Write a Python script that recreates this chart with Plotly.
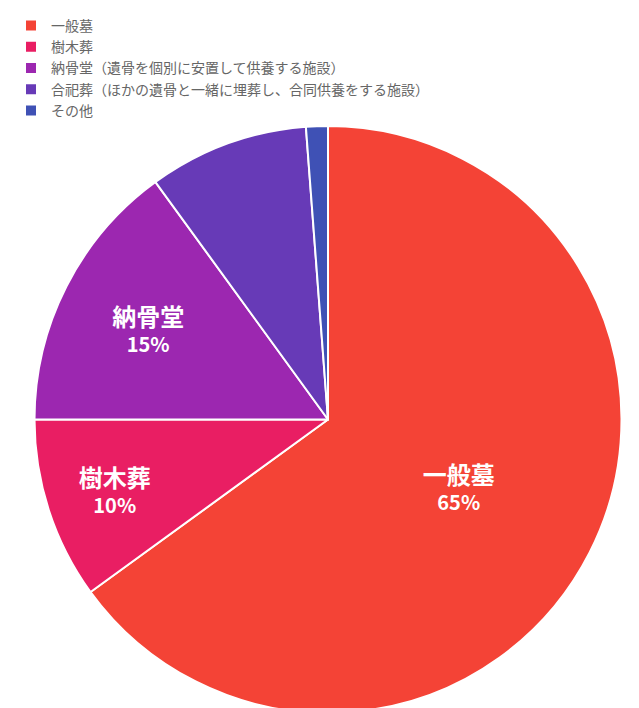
import plotly.graph_objects as go

labels = ["一般墓", "樹木葬", "納骨堂（遺骨を個別に安置して供養する施設）",
          "合祀葬（ほかの遺骨と一緒に埋葬し、合同供養をする施設）", "その他"]
short_labels = ["一般墓", "樹木葬", "納骨堂", "", ""]
values = [65, 10, 15, 8.8, 1.2]
pct_text = ["65%", "10%", "15%", "", ""]
colors = ["#F44336", "#E91E63", "#9C27B0", "#673AB7", "#3F51B5"]

texts = [f"<span style='font-size:24px'><b>{s}</b></span><br><b>{p}</b>" if s else ""
         for s, p in zip(short_labels, pct_text)]

fig = go.Figure(go.Pie(
    labels=labels,
    values=values,
    text=texts,
    textinfo="text",
    textposition="inside",
    insidetextorientation="horizontal",
    textfont=dict(color="white", size=20, family="Noto Sans CJK JP"),
    marker=dict(colors=colors, line=dict(color="white", width=2)),
    sort=False,
    direction="clockwise",
    rotation=0,
    hoverinfo="label+percent",
))
fig.update_layout(
    width=639, height=708,
    margin=dict(l=3, r=2, t=70, b=3),
    paper_bgcolor="white",
    font=dict(family="Noto Sans CJK JP", color="#666666"),
    legend=dict(orientation="h", x=0, xanchor="left", y=1.0, yanchor="bottom",
                font=dict(size=14, color="#666666"), entrywidthmode="pixels", entrywidth=0,
                tracegroupgap=0),
)
fig.write_html("out.html")
